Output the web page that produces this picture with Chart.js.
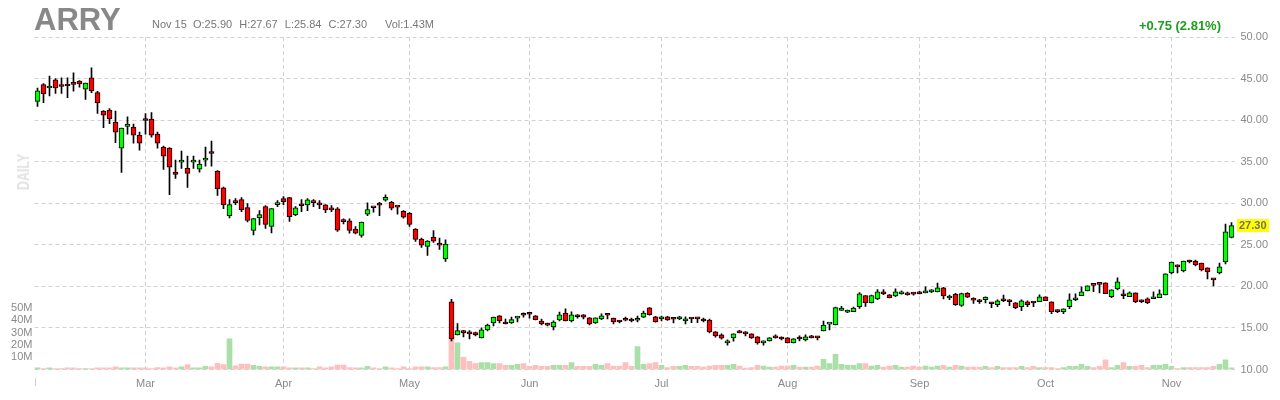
<!DOCTYPE html>
<html><head><meta charset="utf-8">
<script src="https://cdn.jsdelivr.net/npm/chart.js@4.4.1/dist/chart.umd.min.js"></script>
<style>
html,body{margin:0;padding:0;background:#fff;}
#wrap{position:relative;width:1280px;height:400px;overflow:hidden;}
#c{position:absolute;left:0;top:0;}
.t{position:absolute;font-family:"Liberation Sans",Arial,sans-serif;white-space:nowrap;line-height:1;}
</style></head><body>
<div id="wrap">
<canvas id="c" width="1280" height="400"></canvas>
<div class="t" style="left:34px;top:3.5px;font-size:31px;font-weight:bold;color:#888;">ARRY</div>
<div class="t" style="left:152px;top:18.5px;font-size:11px;color:#777;">Nov 15</div>
<div class="t" style="left:193px;top:18.5px;font-size:11px;color:#777;word-spacing:4px;">O:25.90 H:27.67 L:25.84 C:27.30</div>
<div class="t" style="left:385px;top:18.5px;font-size:11px;color:#777;">Vol:1.43M</div>
<div class="t" style="right:59px;top:19px;font-size:13px;font-weight:bold;color:#1e9e1e;">+0.75 (2.81%)</div>
<div class="t" style="left:23.5px;top:171.5px;font-size:16px;font-weight:bold;color:#e2e2e2;transform:translate(-50%,-50%) rotate(-90deg) scaleX(0.78);">DAILY</div>
</div>
<script>
const dates = [
'02/02','02/03','02/04','02/05','02/08','02/09','02/10','02/11','02/12','02/16','02/17','02/18','02/19','02/22','02/23','02/24','02/25','02/26',
'03/01','03/02','03/03','03/04','03/05','03/08','03/09','03/10','03/11','03/12','03/15','03/16','03/17','03/18','03/19','03/22','03/23','03/24','03/25','03/26','03/29','03/30','03/31',
'04/01','04/05','04/06','04/07','04/08','04/09','04/12','04/13','04/14','04/15','04/16','04/19','04/20','04/21','04/22','04/23','04/26','04/27','04/28','04/29','04/30',
'05/03','05/04','05/05','05/06','05/07','05/10','05/11','05/12','05/13','05/14','05/17','05/18','05/19','05/20','05/21','05/24','05/25','05/26','05/27','05/28',
'06/01','06/02','06/03','06/04','06/07','06/08','06/09','06/10','06/11','06/14','06/15','06/16','06/17','06/18','06/21','06/22','06/23','06/24','06/25','06/28','06/29','06/30',
'07/01','07/02','07/06','07/07','07/08','07/09','07/12','07/13','07/14','07/15','07/16','07/19','07/20','07/21','07/22','07/23','07/26','07/27','07/28','07/29','07/30',
'08/02','08/03','08/04','08/05','08/06','08/09','08/10','08/11','08/12','08/13','08/16','08/17','08/18','08/19','08/20','08/23','08/24','08/25','08/26','08/27','08/30','08/31',
'09/01','09/02','09/03','09/07','09/08','09/09','09/10','09/13','09/14','09/15','09/16','09/17','09/20','09/21','09/22','09/23','09/24','09/27','09/28','09/29','09/30',
'10/01','10/04','10/05','10/06','10/07','10/08','10/11','10/12','10/13','10/14','10/15','10/18','10/19','10/20','10/21','10/22','10/25','10/26','10/27','10/28','10/29',
'11/01','11/02','11/03','11/04','11/05','11/08','11/09','11/10','11/11','11/12','11/15'
];
const open = [
42.26,44.27,43.87,44.84,44.10,44.35,44.35,44.70,43.71,45.08,
43.30,41.10,41.20,39.77,36.63,39.25,39.17,38.20,39.97,40.13,
38.32,36.76,36.63,33.75,34.94,34.20,34.94,34.10,35.19,36.05,
33.88,31.85,28.52,30.15,30.44,29.48,26.72,28.28,29.60,27.20,
29.84,30.56,30.68,28.60,29.75,29.80,30.20,29.85,29.80,29.45,
29.34,27.82,27.88,26.88,26.12,28.68,29.50,29.82,30.36,30.12,
29.58,29.04,28.80,26.88,25.69,24.81,25.93,25.21,23.29,18.15,
14.16,14.68,14.52,14.44,13.80,14.76,15.59,16.47,15.71,15.59,
16.19,16.57,16.69,16.47,15.83,15.37,15.11,15.95,16.79,15.83,
16.59,16.59,16.23,15.59,16.07,16.57,16.19,15.83,15.97,16.07,
15.93,16.31,17.43,16.35,16.07,16.35,16.09,16.07,15.83,16.09,
16.13,16.07,15.95,14.52,14.16,13.21,13.81,14.60,14.52,14.28,
13.93,13.21,13.45,14.04,13.71,13.81,13.21,13.71,13.57,14.04,
13.93,14.64,15.45,15.35,17.10,16.90,16.95,17.55,18.90,18.00,
18.50,19.35,18.98,18.85,19.10,19.22,19.10,19.35,19.20,19.32,
19.32,19.82,18.60,19.04,17.70,19.16,18.55,18.35,18.39,18.03,
17.79,18.51,18.39,18.03,17.55,18.15,18.05,18.15,18.75,18.15,
17.07,16.95,17.55,18.39,18.87,19.46,20.16,20.28,20.42,18.75,
19.70,19.11,18.75,19.22,18.39,18.51,18.51,18.63,18.98,21.62,
22.58,21.86,23.17,23.05,22.81,22.22,20.90,21.62,22.93,25.90
];
const high = [
43.87,44.40,45.30,45.00,45.10,45.10,45.70,44.75,44.47,46.30,
43.47,41.15,41.38,41.10,39.05,40.40,39.53,38.56,40.78,40.90,
38.56,36.88,36.70,35.19,36.27,35.67,35.67,35.19,36.76,37.48,
33.92,31.95,30.44,30.56,30.68,29.96,28.16,29.12,29.72,29.36,
30.32,30.80,30.70,29.60,30.44,30.56,30.44,30.32,29.84,29.72,
29.48,28.12,28.12,27.20,27.72,30.04,29.50,30.10,31.00,30.24,
29.60,29.12,28.88,26.96,25.80,25.50,26.70,25.80,25.60,18.43,
15.51,14.72,14.68,14.50,15.00,15.45,16.31,16.50,16.07,16.31,
16.35,16.83,16.79,16.50,16.07,15.59,15.87,16.91,17.31,16.95,
16.60,16.60,16.25,16.23,16.71,16.63,16.20,15.90,16.31,16.19,
16.43,17.03,17.45,16.40,16.43,16.40,16.15,16.40,16.35,16.15,
16.23,16.19,16.07,14.55,14.28,13.57,14.28,14.72,14.55,14.30,
13.95,13.45,13.85,14.16,13.93,13.85,13.72,14.04,14.16,14.10,
13.95,15.83,15.49,17.50,17.60,17.15,17.50,19.25,18.90,18.95,
19.60,19.60,19.00,19.70,19.45,19.30,19.22,19.40,19.95,19.60,
20.40,19.90,18.95,19.15,19.20,19.25,18.63,18.45,18.75,18.05,
18.39,18.95,18.40,18.05,18.39,18.25,18.15,18.99,18.75,18.15,
17.19,17.31,19.11,19.11,19.95,20.06,20.16,20.28,20.42,19.58,
21.02,19.58,19.34,19.22,18.39,18.63,19.34,19.58,21.50,22.93,
22.58,23.05,23.17,23.17,22.81,22.22,20.90,22.81,27.48,27.67
];
const low = [
41.66,42.10,42.90,43.20,43.20,42.70,43.47,43.95,42.50,43.30,
40.80,39.10,39.57,37.30,33.70,38.30,37.24,36.40,38.30,37.96,
36.63,34.06,31.04,32.98,34.20,31.90,34.20,33.75,34.46,34.46,
30.95,29.35,28.24,29.84,29.00,27.76,26.20,27.40,26.96,26.44,
29.60,29.84,27.80,28.52,29.00,29.12,29.60,29.36,28.88,29.00,
26.60,27.52,26.40,26.30,25.92,28.50,28.92,28.50,30.24,29.20,
28.68,28.20,27.20,25.40,24.70,23.73,25.30,24.45,23.00,13.44,
14.16,13.92,13.68,14.05,13.80,14.65,15.25,15.60,15.47,15.55,
15.71,16.31,16.19,15.95,15.35,15.23,14.76,15.83,15.83,15.71,
16.19,16.07,15.35,15.55,16.00,16.07,15.47,15.60,15.83,15.71,
15.71,16.23,16.55,15.70,15.83,15.90,15.59,16.00,15.47,15.63,
15.63,15.71,14.40,13.88,13.65,12.93,13.41,14.40,14.04,13.75,
13.05,12.93,13.40,13.78,13.57,13.20,13.20,13.45,13.45,13.80,
13.57,14.64,14.75,15.35,17.10,16.85,16.95,17.35,17.60,18.00,
18.40,19.00,18.60,18.75,19.05,18.95,18.95,19.08,19.20,19.25,
19.32,18.50,18.40,17.70,17.60,18.65,17.95,17.95,18.00,17.43,
17.55,18.15,17.67,17.31,17.07,17.55,17.55,18.15,18.27,16.71,
16.83,16.71,17.31,18.27,18.87,19.46,19.35,19.20,19.11,18.63,
19.58,18.51,18.75,18.03,18.03,17.91,18.51,18.63,18.98,21.50,
21.62,21.74,22.81,22.46,21.86,20.90,20.06,21.50,22.70,25.84
];
const close = [
43.51,43.15,44.10,43.87,44.05,44.10,44.30,44.35,44.47,43.51,
42.06,40.60,40.13,38.56,39.05,39.53,38.20,37.24,39.95,38.20,
37.24,35.67,34.34,33.46,35.19,33.60,35.19,34.70,35.43,35.98,
31.72,29.80,29.84,30.08,29.24,27.92,28.16,28.64,27.44,29.36,
30.08,30.20,28.40,29.45,29.70,30.40,30.08,29.80,29.20,29.20,
26.75,27.78,26.72,26.40,27.72,29.24,29.46,29.78,30.72,29.40,
29.54,28.32,27.44,25.64,24.97,25.45,25.45,24.97,25.09,13.68,
14.68,14.40,14.28,14.16,14.76,15.35,16.31,15.83,15.47,16.00,
16.35,16.53,16.65,15.99,15.47,15.33,15.71,16.59,15.83,16.59,
16.35,16.31,15.47,16.23,16.47,16.53,15.71,15.71,15.93,15.83,
15.97,16.79,16.59,15.71,16.35,15.95,16.05,16.35,16.11,16.07,
16.09,15.83,14.52,14.04,13.77,13.45,14.28,14.40,14.28,13.81,
13.21,13.45,13.81,13.81,13.67,13.21,13.69,13.67,13.93,13.81,
13.81,15.35,15.49,17.45,17.40,17.10,17.40,19.10,18.00,18.90,
19.35,19.10,18.65,19.35,19.35,18.98,19.06,19.10,19.45,19.58,
19.82,18.86,18.84,17.80,19.12,18.70,18.35,18.15,18.70,17.91,
18.27,18.27,18.15,17.43,18.27,17.79,18.00,18.75,18.27,16.95,
16.97,17.31,18.39,18.63,19.34,20.06,20.12,20.24,19.11,19.58,
20.54,18.87,19.22,18.15,18.15,18.03,18.63,19.11,21.50,22.93,
22.34,23.05,22.93,22.58,21.98,21.74,20.78,22.34,26.55,27.30
];
// volume in millions of shares
const volume = [
1.4,0.8,1.4,0.8,0.8,1.4,1.4,0.8,0.8,0.8,
1.4,1.4,1.4,2.2,1.4,1.4,1.4,1.4,1.4,0.8,
1.6,1.4,2.2,1.4,2.2,4.0,1.4,1.4,2.5,2.2,
5.0,4.0,25.0,3.0,4.4,4.4,3.4,2.6,2.2,2.2,
2.2,2.2,1.4,1.4,1.4,1.4,0.8,2.2,1.4,2.2,
3.6,3.6,1.6,1.4,1.4,2.6,1.4,0.8,2.2,1.4,
0.8,2.2,0.8,2.2,2.2,2.2,1.6,1.6,2.2,26.0,
21.6,9.8,6.6,4.9,5.7,5.7,4.9,4.9,3.3,3.3,
4.1,4.9,2.5,3.3,2.5,2.5,3.3,3.3,3.3,5.7,
2.5,2.5,2.5,4.1,3.3,4.9,2.5,2.5,5.7,2.5,
18.6,4.1,4.9,5.7,3.3,1.6,2.5,2.5,3.3,2.5,
2.5,1.9,2.7,3.3,3.3,3.3,4.1,2.7,1.1,1.6,
3.3,2.7,1.9,1.9,2.7,2.7,3.3,1.9,1.9,1.9,
2.7,8.2,4.9,12.3,4.1,3.3,3.3,4.9,4.9,2.7,
3.3,1.9,2.7,3.3,1.9,1.9,2.7,1.9,2.7,1.9,
2.7,3.3,1.9,3.3,2.7,1.9,1.9,1.9,2.5,1.6,
2.5,1.6,1.6,1.6,2.5,1.6,2.5,1.6,1.6,1.6,
0.8,1.6,2.5,2.5,4.1,2.5,1.6,2.5,7.9,1.6,
3.3,5.7,2.5,2.5,3.3,1.6,3.3,3.3,4.1,2.5,
0.8,1.6,1.6,1.6,1.6,1.6,2.5,4.1,7.9,1.43
];
const priceTicks = [10,15,20,25,30,35,40,45,50];
const volumeTicks = [10,20,30,40,50];
const monthNames = ['Jan','Feb','Mar','Apr','May','Jun','Jul','Aug','Sep','Oct','Nov','Dec'];

const FONT = '"Liberation Sans", Arial, sans-serif';
const up = close.map((c,i)=> c >= open[i]);
const monthLabel = i => {
  if (i === 0) return '';
  const m = dates[i].slice(0,2), pm = dates[i-1].slice(0,2);
  return m !== pm ? monthNames[parseInt(m,10)-1] : '';
};

const lastLabel = {
  id:'lastLabel',
  afterDraw(chart){
    const ctx = chart.ctx, ys = chart.scales.y;
    const v = close[close.length-1];
    const y = ys.getPixelForValue(v);
    ctx.save();
    ctx.fillStyle = '#ffff00';
    ctx.fillRect(1237, Math.round(y)-7, 32, 13);
    ctx.fillStyle = '#707070';
    ctx.font = 'bold 11px ' + FONT;
    ctx.textBaseline = 'middle';
    ctx.textAlign = 'left';
    ctx.fillText(v.toFixed(2), 1239, Math.round(y)-0.5);
    // small start tick under the time axis
    ctx.strokeStyle = '#d0d0d0';
    ctx.lineWidth = 1;
    ctx.beginPath();
    ctx.moveTo(35.5, 378); ctx.lineTo(35.5, 386);
    ctx.stroke();
    ctx.restore();
  }
};

new Chart(document.getElementById('c'), {
  type:'bar',
  data:{
    labels: dates,
    datasets:[
      { label:'Volume', yAxisID:'yv', data: volume, grouped:false, order:3,
        barThickness:5, backgroundColor: up.map(u=> u ? '#aadfa8' : '#ffbfbf'), borderWidth:0 },
      { label:'Range', yAxisID:'y', data: low.map((l,i)=>[l, high[i]]), grouped:false, order:2,
        barThickness:1, backgroundColor:'#000', borderWidth:0 },
      { label:'Body', yAxisID:'y', data: open.map((o,i)=>[o, close[i]]), grouped:false, order:1,
        barThickness:5, minBarLength:2, backgroundColor: up.map(u=> u ? '#00ff00' : '#ff0000'),
        borderColor:'#000', borderWidth:1, borderSkipped:false }
    ]
  },
  options:{
    responsive:false, animation:false,
    layout:{padding:{top:37,left:0,right:0,bottom:0}},
    plugins:{legend:{display:false}, tooltip:{enabled:false}},
    scales:{
      x:{ type:'category', offset:true,
        grid:{ offset:false, drawTicks:false, lineWidth:1,
          color: c => (c.index>0 && monthLabel(c.index)) ? '#d2d2d2' : 'rgba(0,0,0,0)' },
        border:{ display:false, dash:[4,3] },
        ticks:{ autoSkip:false, maxRotation:0, minRotation:0, padding:8, color:'#8a8a8a',
          font:{family:FONT, size:11}, callback:(v,i)=>monthLabel(i) },
        afterFit: s => { s.height = 30.5; }
      },
      y:{ position:'right', min:10, max:50,
        afterBuildTicks: s => { s.ticks = priceTicks.map(v=>({value:v})); },
        grid:{ drawTicks:false, color:'#d2d2d2' },
        border:{ display:false, dash:[4,3] },
        ticks:{ padding:6, color:'#8a8a8a', font:{family:FONT, size:11}, callback: v => Number(v).toFixed(2) },
        afterFit: s => { s.width = 45.5; }
      },
      yv:{ position:'left', min:0, max:270,
        afterBuildTicks: s => { s.ticks = volumeTicks.map(v=>({value:v})); },
        grid:{ display:false, drawTicks:false }, border:{ display:false },
        ticks:{ padding:2, color:'#8a8a8a', font:{family:FONT, size:11}, callback: v => v + 'M' },
        afterFit: s => { s.width = 34.5; }
      }
    }
  },
  plugins:[lastLabel]
});
</script>
</body></html>
